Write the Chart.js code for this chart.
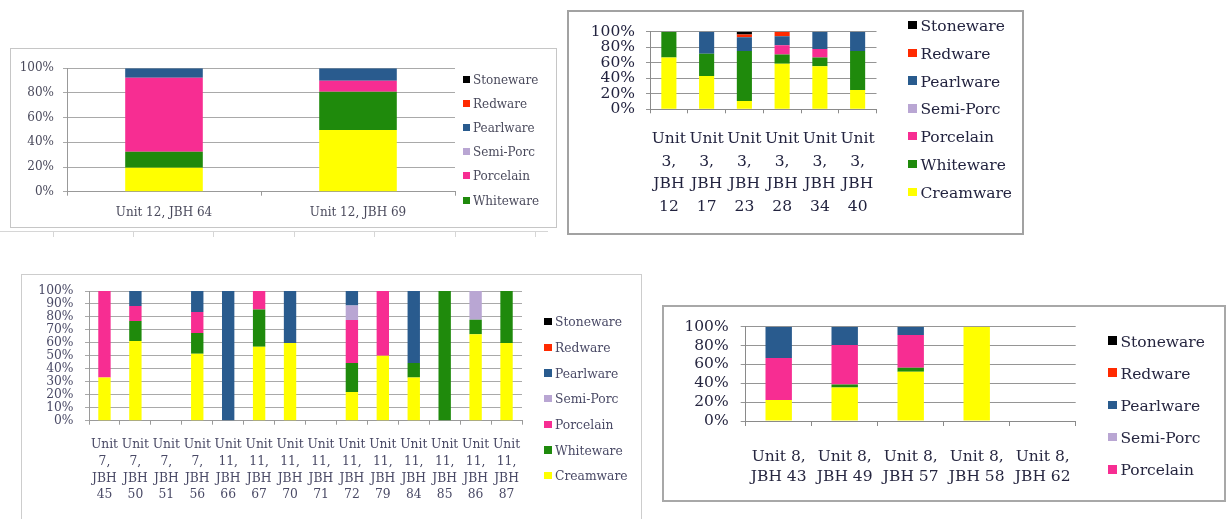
<!DOCTYPE html>
<html>
<head>
<meta charset="utf-8">
<script src="https://cdn.jsdelivr.net/npm/chart.js@4.4.1/dist/chart.umd.min.js"></script>
<style>
  html, body { margin: 0; padding: 0; background: #fff; }
  body { width: 1228px; height: 519px; position: relative; overflow: hidden; }
  .frame { position: absolute; box-sizing: border-box; background: #fff; }
  canvas.plot { position: absolute; }
  .legend-item { position: absolute; display: flex; align-items: center; white-space: nowrap; }
  .swatch { display: inline-block; flex: none; }
  .rule { position: absolute; background: #d6d6d6; }
</style>
</head>
<body>
<script>
const FONT = "'DejaVu Serif', 'Liberation Serif', serif";

// Ware types, stacked bottom to top
const wareNames  = ['Creamware', 'Whiteware', 'Porcelain', 'Semi-Porc', 'Pearlware', 'Redware', 'Stoneware'];
const wareColors = ['#ffff00', '#1f8a0c', '#f72d92', '#b9a6d3', '#295b8e', '#ff2a00', '#000000'];

// Percent axis ticks
const percentTicks20 = [0, 20, 40, 60, 80, 100];
const percentTicks10 = [0, 10, 20, 30, 40, 50, 60, 70, 80, 90, 100];

// Unit 12
const unit12Labels    = [['Unit 12, JBH 64'], ['Unit 12, JBH 69']];
const unit12Creamware = [19.4, 50];
const unit12Whiteware = [13, 31];
const unit12Porcelain = [60, 9];
const unit12SemiPorc  = [0, 0];
const unit12Pearlware = [7.6, 10];
const unit12Redware   = [0, 0];
const unit12Stoneware = [0, 0];

// Unit 3
const unit3Labels    = [['Unit', '3,', 'JBH', '12'], ['Unit', '3,', 'JBH', '17'], ['Unit', '3,', 'JBH', '23'],
                        ['Unit', '3,', 'JBH', '28'], ['Unit', '3,', 'JBH', '34'], ['Unit', '3,', 'JBH', '40']];
const unit3Creamware = [66.7, 42.9, 10.7, 58.8, 55.6, 25];
const unit3Whiteware = [33.3, 28.6, 64.3, 11.8, 11.1, 50];
const unit3Porcelain = [0, 0, 0, 11.8, 11.1, 0];
const unit3SemiPorc  = [0, 0, 0, 0, 0, 0];
const unit3Pearlware = [0, 28.5, 17.9, 11.8, 22.2, 25];
const unit3Redware   = [0, 0, 3.6, 5.8, 0, 0];
const unit3Stoneware = [0, 0, 3.5, 0, 0, 0];

// Units 7 and 11
const unit7and11Labels = [
  ['Unit', '7,', 'JBH', '45'], ['Unit', '7,', 'JBH', '50'], ['Unit', '7,', 'JBH', '51'], ['Unit', '7,', 'JBH', '56'],
  ['Unit', '11,', 'JBH', '66'], ['Unit', '11,', 'JBH', '67'], ['Unit', '11,', 'JBH', '70'], ['Unit', '11,', 'JBH', '71'],
  ['Unit', '11,', 'JBH', '72'], ['Unit', '11,', 'JBH', '79'], ['Unit', '11,', 'JBH', '84'], ['Unit', '11,', 'JBH', '85'],
  ['Unit', '11,', 'JBH', '86'], ['Unit', '11,', 'JBH', '87']];
const unit7and11Creamware = [33.3, 61.5, 0, 51.6, 0, 57.1, 60, 0, 22.2, 50, 33.3, 0, 66.7, 60];
const unit7and11Whiteware = [0, 15.4, 0, 16.1, 0, 28.6, 0, 0, 22.2, 0, 11.1, 100, 11.1, 40];
const unit7and11Porcelain = [66.7, 11.5, 0, 16.1, 0, 14.3, 0, 0, 33.3, 50, 0, 0, 0, 0];
const unit7and11SemiPorc  = [0, 0, 0, 0, 0, 0, 0, 0, 11.1, 0, 0, 0, 22.2, 0];
const unit7and11Pearlware = [0, 11.6, 0, 16.2, 100, 0, 40, 0, 11.2, 0, 55.6, 0, 0, 0];
const unit7and11Redware   = [0, 0, 0, 0, 0, 0, 0, 0, 0, 0, 0, 0, 0, 0];
const unit7and11Stoneware = [0, 0, 0, 0, 0, 0, 0, 0, 0, 0, 0, 0, 0, 0];

// Unit 8
const unit8Labels    = [['Unit 8,', 'JBH 43'], ['Unit 8,', 'JBH 49'], ['Unit 8,', 'JBH 57'], ['Unit 8,', 'JBH 58'], ['Unit 8,', 'JBH 62']];
const unit8Creamware = [22.2, 35.5, 52.2, 100, 0];
const unit8Whiteware = [0, 3.2, 4.3, 0, 0];
const unit8Porcelain = [44.5, 41.9, 34.8, 0, 0];
const unit8SemiPorc  = [0, 0, 0, 0, 0];
const unit8Pearlware = [33.3, 19.4, 8.7, 0, 0];
const unit8Redware   = [0, 0, 0, 0, 0];
const unit8Stoneware = [0, 0, 0, 0, 0];

// Layout of each chart panel on the page
const panels = [
  {
    frame: { x: 10, y: 48, w: 547, h: 180, border: '1.5px solid #c6c6c6' },
    plot: { l: 67, t: 68.3, r: 455, b: 191.7 },
    labels: unit12Labels,
    series: [unit12Creamware, unit12Whiteware, unit12Porcelain, unit12SemiPorc, unit12Pearlware, unit12Redware, unit12Stoneware],
    yTicks: percentTicks20,
    size: 12, xLine: '14px', xPad: 10, yPad: 9, tick: 4,
    text: '#4a4a5c', grid: '#a9a9a9', axis: '#999999',
    legend: { x: 463, y0: 80, dy: 24.2, count: 6, box: 7, gap: 3, size: 12, color: '#4a4a5c' }
  },
  {
    frame: { x: 567, y: 10, w: 457, h: 225, border: '2px solid #a2a2a2' },
    plot: { l: 650, t: 31.7, r: 876.5, b: 109.3 },
    labels: unit3Labels,
    series: [unit3Creamware, unit3Whiteware, unit3Porcelain, unit3SemiPorc, unit3Pearlware, unit3Redware, unit3Stoneware],
    yTicks: percentTicks20,
    size: 15.5, xLine: '22.5px', xPad: 14.5, yPad: 11, tick: 4,
    text: '#22233f', grid: '#959595', axis: '#8a8a8a',
    legend: { x: 908, y0: 26, dy: 27.8, count: 7, box: 8.5, gap: 4, size: 15.5, color: '#22233f' }
  },
  {
    frame: { x: 21, y: 274, w: 621, h: 250, border: '1.5px solid #cdcdcd' },
    plot: { l: 89, t: 291, r: 522, b: 420.7 },
    labels: unit7and11Labels,
    series: [unit7and11Creamware, unit7and11Whiteware, unit7and11Porcelain, unit7and11SemiPorc, unit7and11Pearlware, unit7and11Redware, unit7and11Stoneware],
    yTicks: percentTicks10,
    size: 12.3, xLine: '16.7px', xPad: 12, yPad: 11.5, tick: 4,
    text: '#4a4a66', grid: '#a9a9a9', axis: '#9a9a9a',
    legend: { x: 544, y0: 322.7, dy: 25.67, count: 7, box: 7.5, gap: 3.5, size: 12.3, color: '#4a4a66' }
  },
  {
    frame: { x: 662, y: 305, w: 564, h: 197, border: '2px solid #a8a8a8' },
    plot: { l: 745.7, t: 326.7, r: 1075.7, b: 421 },
    labels: unit8Labels,
    series: [unit8Creamware, unit8Whiteware, unit8Porcelain, unit8SemiPorc, unit8Pearlware, unit8Redware, unit8Stoneware],
    yTicks: percentTicks20,
    size: 15.5, xLine: '20px', xPad: 20.5, yPad: 12, tick: 5,
    text: '#262640', grid: '#959595', axis: '#8a8a8a',
    legend: { x: 1108, y0: 341.5, dy: 32.2, count: 5, box: 8.5, gap: 4, size: 15.5, color: '#262640' }
  }
];

function buildPanel(p) {
  const f = p.frame;
  const frame = document.createElement('div');
  frame.className = 'frame';
  Object.assign(frame.style, { left: f.x + 'px', top: f.y + 'px', width: f.w + 'px', height: f.h + 'px', border: f.border });
  document.body.appendChild(frame);

  const canvas = document.createElement('canvas');
  canvas.className = 'plot';
  canvas.width = f.w; canvas.height = f.h;
  Object.assign(canvas.style, { left: f.x + 'px', top: f.y + 'px', width: f.w + 'px', height: f.h + 'px' });
  document.body.appendChild(canvas);

  const yWidth = p.plot.l - f.x;
  const xHeight = f.y + f.h - p.plot.b;

  new Chart(canvas, {
    type: 'bar',
    data: {
      labels: p.labels,
      datasets: wareNames.map((name, i) => ({
        label: name,
        data: p.series[i],
        backgroundColor: wareColors[i],
        borderWidth: 0,
        categoryPercentage: 1,
        barPercentage: 0.4
      }))
    },
    options: {
      responsive: false,
      animation: false,
      devicePixelRatio: 1,
      layout: { padding: { left: 0, top: p.plot.t - f.y, right: f.x + f.w - p.plot.r, bottom: 0 } },
      plugins: { legend: { display: false }, tooltip: { enabled: false } },
      scales: {
        x: {
          stacked: true,
          grid: { drawOnChartArea: false, drawTicks: true, tickLength: p.tick, color: p.axis, offset: true },
          border: { display: true, color: p.axis, width: 1 },
          ticks: {
            autoSkip: false, maxRotation: 0, minRotation: 0,
            padding: p.xPad, color: p.text,
            font: { family: FONT, size: p.size, lineHeight: p.xLine }
          },
          afterFit: s => { s.height = xHeight; }
        },
        y: {
          stacked: true, min: 0, max: 100,
          grid: { color: p.grid, tickLength: p.tick, drawTicks: true },
          border: { display: true, color: p.axis, width: 1 },
          ticks: {
            autoSkip: false,
            padding: p.yPad, color: p.text,
            font: { family: FONT, size: p.size, lineHeight: '10px' },
            callback: v => v + '%'
          },
          afterBuildTicks: s => { s.ticks = p.yTicks.map(v => ({ value: v })); },
          afterFit: s => { s.width = yWidth; }
        }
      }
    }
  });

  // Legend, listed top-down from Stoneware
  const lg = p.legend;
  const order = wareNames.slice().reverse();
  for (let i = 0; i < lg.count; i++) {
    const name = order[i];
    const color = wareColors[wareNames.indexOf(name)];
    const h = Math.round(lg.size * 1.4);
    const item = document.createElement('div');
    item.className = 'legend-item';
    Object.assign(item.style, {
      left: lg.x + 'px', top: (lg.y0 + i * lg.dy - h / 2) + 'px', height: h + 'px',
      fontFamily: FONT, fontSize: lg.size + 'px', color: lg.color, lineHeight: h + 'px'
    });
    const sw = document.createElement('span');
    sw.className = 'swatch';
    Object.assign(sw.style, { width: lg.box + 'px', height: lg.box + 'px', background: color, marginRight: lg.gap + 'px', marginTop: '-2px' });
    const tx = document.createElement('span');
    tx.textContent = name;
    item.appendChild(sw);
    item.appendChild(tx);
    document.body.appendChild(item);
  }
}

// faint rule running under the first panel
(function () {
  const line = document.createElement('div');
  line.className = 'rule';
  Object.assign(line.style, { left: '0px', top: '231px', width: '548px', height: '1px' });
  document.body.appendChild(line);
  [53, 133, 213, 294, 374, 455, 535].forEach(x => {
    const t = document.createElement('div');
    t.className = 'rule';
    Object.assign(t.style, { left: x + 'px', top: '232px', width: '1px', height: '5px' });
    document.body.appendChild(t);
  });
})();

panels.forEach(buildPanel);
</script>
</body>
</html>
